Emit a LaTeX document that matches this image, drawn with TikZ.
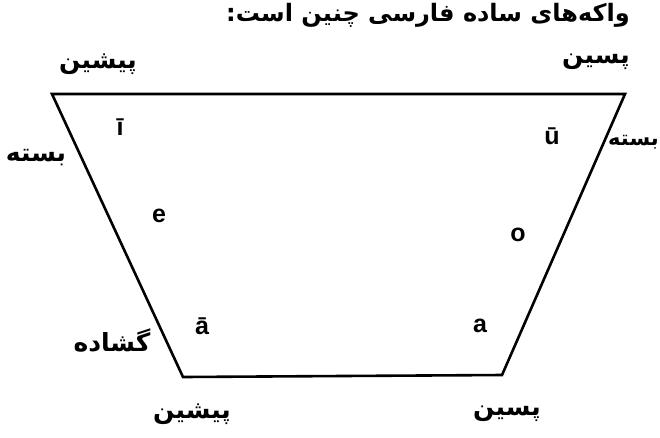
\documentclass[tikz,border=0pt]{standalone}
\usepackage{fontspec}
\setmainfont{Liberation Serif}
\setsansfont{Liberation Sans}
\newfontfamily\farsi[Script=Arabic]{DejaVu Sans}
\TeXXeTstate=1
\usepackage{tikz}

\begin{document}
\begin{tikzpicture}[x=1pt,y=-1pt,
        side/.style={font=\fontsize{25}{27}\selectfont\farsi\bfseries, inner sep=0pt},
        vowel/.style={font=\fontsize{25}{27}\selectfont\sffamily\bfseries, inner sep=0pt}]
        \useasboundingbox (0,0) rectangle (660,437);

        % heading
        \node[side, anchor=base west, font=\fontsize{24}{26}\selectfont\farsi\bfseries] (head) at (226,21) {\beginR واکه‌های ساده فارسی چنین است:\endR};

        % corners of the vowel trapezoid
        \coordinate (tl) at (52,94);
        \coordinate (tr) at (625,94);
        \coordinate (br) at (502,375);
        \coordinate (bl) at (183,377);
        \draw[line width=2.6pt, line join=miter] (tl) -- (tr) -- (br) -- (bl) -- cycle;

        % vowels
        \node[vowel] (ii) at (120,127) {ī};
        \node[vowel] (uu) at (552,136) {ū};
        \node[vowel] (e) at (159,216) {e};
        \node[vowel] (o) at (518,235) {o};
        \node[vowel] (aa) at (202,326) {ā};
        \node[vowel] (a) at (480,326) {a};

        % labels round the trapezoid
        \node[side] (fronttop) at (98,64) {\beginR پیشین\endR};
        \node[side] (backtop) at (596,62) {\beginR پسین\endR};
        \node[side] (closeleft) at (36,158) {\beginR بسته\endR};
        \node[side, anchor=east, font=\fontsize{21}{23}\selectfont\farsi\bfseries] (closeright) at (659,142) {\beginR بسته\endR};
        \node[side] (open) at (112,340) {\beginR گشاده\endR};
        \node[side] (frontbot) at (192,414) {\beginR پیشین\endR};
        \node[side] (backbot) at (507,414) {\beginR پسین\endR};
\end{tikzpicture}
\end{document}
